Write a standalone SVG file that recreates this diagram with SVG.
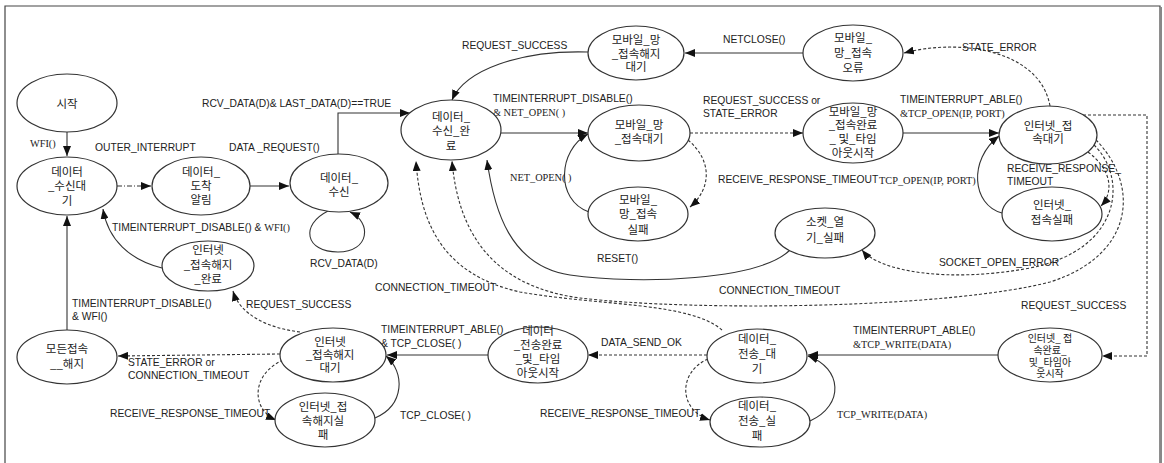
<svg xmlns="http://www.w3.org/2000/svg" width="1164" height="463" viewBox="0 0 1164 463">
<style>
.n ellipse{fill:#fff;stroke:#333;stroke-width:1.2}
.n text{font-family:"Noto Sans CJK KR","Liberation Sans",sans-serif;font-size:11.5px;fill:#222;text-anchor:middle}
.n text.s{font-size:10px}
.c path{fill:none;stroke:#333;stroke-width:1.1}
.c path.d{stroke-dasharray:3,2}
.c path.dd{stroke-dasharray:5,2,1,2}
.l text{font-family:"Liberation Sans",Arial,sans-serif;font-size:10.3px;fill:#222}
.l text.m{font-family:"Liberation Serif","Times New Roman",serif;font-size:10.3px}
</style>
<defs>
<marker id="a" markerUnits="userSpaceOnUse" markerWidth="10" markerHeight="8" refX="10" refY="4" orient="auto"><path d="M0,0 L10,4 L0,8 z" fill="#111"/></marker>
</defs>
<rect x="0" y="0" width="1164" height="463" fill="#fff"/>
<path d="M5,463 L5,6 L1160,6 L1160,463" fill="none" stroke="#444" stroke-width="1.2"/>
<path d="M1161,7 L1161,463" fill="none" stroke="#888" stroke-width="2"/>

<g class="c">
<path d="M67,132 L67,156" marker-end="url(#a)"/>
<path class="dd" d="M117,186 L151,186" marker-end="url(#a)"/>
<path d="M250,186 L289,186" marker-end="url(#a)"/>
<path d="M338,154 L338,113 L410,113" marker-end="url(#a)"/>
<path d="M328,211 C300,225 305,252 338,252 C370,252 372,222 350,212" marker-end="url(#a)"/>
<path d="M501,133 L588,133" marker-end="url(#a)"/>
<path d="M588,52 C520,50 465,70 452,100" marker-end="url(#a)"/>
<path d="M803,53 L685,53" marker-end="url(#a)"/>
<path class="d" d="M1050,106 C1040,50 960,38 904,53" marker-end="url(#a)"/>
<path class="d" d="M690,133 L803,133" marker-end="url(#a)"/>
<path class="d" d="M688,140 C712,160 712,188 690,207" marker-end="url(#a)"/>
<path d="M589,212 C555,200 558,150 588,134" marker-end="url(#a)"/>
<path d="M903,133 L999,133" marker-end="url(#a)"/>
<path d="M1002,213 C972,205 968,160 999,136" marker-end="url(#a)"/>
<path class="d" d="M1088,152 C1112,170 1114,192 1101,206" marker-end="url(#a)"/>
<path class="d" d="M1094,145 C1128,178 1122,250 1030,268 C950,283 880,272 862,250" marker-end="url(#a)"/>
<path class="d" d="M1096,140 C1140,185 1135,255 1050,282 C950,308 700,312 580,298 C490,286 458,230 452,161" marker-end="url(#a)"/>
<path d="M790,250 C760,280 640,285 570,275 C510,266 494,210 487,160" marker-end="url(#a)"/>
<path class="d" d="M722,330 C690,302 600,306 520,292 C440,274 420,220 416,161" marker-end="url(#a)"/>
<path class="d" d="M1083,115 L1147,115 L1147,356 L1102,356" marker-end="url(#a)"/>
<path d="M998,355 L808,355" marker-end="url(#a)"/>
<path class="d" d="M707,355 L588,355" marker-end="url(#a)"/>
<path class="d" d="M708,359 C678,372 678,410 710,420" marker-end="url(#a)"/>
<path d="M810,421 C845,405 842,368 808,356" marker-end="url(#a)"/>
<path d="M488,355 L387,355" marker-end="url(#a)"/>
<path d="M375,418 C405,405 405,372 386,356" marker-end="url(#a)"/>
<path class="d" d="M283,360 C250,375 252,410 276,420" marker-end="url(#a)"/>
<path class="d" d="M280,354 L118,356" marker-end="url(#a)"/>
<path class="d" d="M300,332 C268,328 240,315 233,291" marker-end="url(#a)"/>
<path d="M162,268 C130,260 108,240 103,209" marker-end="url(#a)"/>
<path d="M67,330 L67,216" marker-end="url(#a)"/>
</g>

<g class="l">
<text class="m" x="30" y="147">WFI()</text>
<text x="95" y="151">OUTER_INTERRUPT</text>
<text x="229" y="151">DATA _REQUEST()</text>
<text x="202" y="107">RCV_DATA(D)&amp; LAST_DATA(D)==TRUE</text>
<text x="310" y="267">RCV_DATA(D)</text>
<text x="493" y="102">TIMEINTERRUPT_DISABLE()</text>
<text class="m" x="493" y="116">&amp; NET_OPEN( )</text>
<text x="462" y="49">REQUEST_SUCCESS</text>
<text x="723" y="43">NETCLOSE()</text>
<text x="962" y="51">STATE_ERROR</text>
<text x="703" y="104">REQUEST_SUCCESS or</text>
<text x="703" y="117">STATE_ERROR</text>
<text x="718" y="183">RECEIVE_RESPONSE_TIMEOUT</text>
<text class="m" x="510" y="181">NET_OPEN( )</text>
<text x="900" y="103">TIMEINTERRUPT_ABLE()</text>
<text class="m" x="900" y="117">&amp;TCP_OPEN(IP, PORT)</text>
<text class="m" x="879" y="184">TCP_OPEN(IP, PORT)</text>
<text x="1007" y="172">RECEIVE_RESPONSE_</text>
<text x="1007" y="185">TIMEOUT</text>
<text x="939" y="266">SOCKET_OPEN_ERROR</text>
<text x="719" y="294">CONNECTION_TIMEOUT</text>
<text x="597" y="262">RESET()</text>
<text x="375" y="291">CONNECTION_TIMEOUT</text>
<text x="1021" y="309">REQUEST_SUCCESS</text>
<text x="853" y="334">TIMEINTERRUPT_ABLE()</text>
<text class="m" x="853" y="348">&amp;TCP_WRITE(DATA)</text>
<text x="601" y="346">DATA_SEND_OK</text>
<text x="540" y="417">RECEIVE_RESPONSE_TIMEOUT</text>
<text class="m" x="837" y="418">TCP_WRITE(DATA)</text>
<text x="381" y="333">TIMEINTERRUPT_ABLE()</text>
<text x="381" y="347">&amp; TCP_CLOSE( )</text>
<text x="400" y="419">TCP_CLOSE( )</text>
<text x="110" y="417">RECEIVE_RESPONSE_TIMEOUT</text>
<text x="128" y="366">STATE_ERROR or</text>
<text x="128" y="379">CONNECTION_TIMEOUT</text>
<text x="246" y="308">REQUEST_SUCCESS</text>
<text x="112" y="231">TIMEINTERRUPT_DISABLE() &amp; <tspan font-family="Liberation Serif, serif">WFI()</tspan></text>
<text x="72" y="307">TIMEINTERRUPT_DISABLE()</text>
<text x="72" y="320">&amp; WFI()</text>
</g>

<g class="n" id="n-start"><ellipse cx="67" cy="103" rx="50" ry="29"/><text x="67" y="108">시작</text></g>
<g class="n" id="n-rx-wait"><ellipse cx="67" cy="186" rx="50" ry="29"/><text x="67" y="176">데이터</text><text x="67" y="190">_수신대</text><text x="67" y="205">기</text></g>
<g class="n" id="n-arrive"><ellipse cx="201" cy="186" rx="49" ry="29"/><text x="201" y="176">데이터_</text><text x="201" y="190">도착</text><text x="201" y="204">알림</text></g>
<g class="n" id="n-rx"><ellipse cx="339" cy="183" rx="49" ry="29"/><text x="339" y="182">데이터_</text><text x="339" y="196">수신</text></g>
<g class="n" id="n-rx-done"><ellipse cx="451" cy="130" rx="50" ry="30"/><text x="451" y="121">데이터_</text><text x="451" y="135">수신_완</text><text x="451" y="150">료</text></g>
<g class="n" id="n-mob-close-wait"><ellipse cx="636" cy="53" rx="48" ry="27"/><text x="636" y="44">모바일_망</text><text x="636" y="58">_접속해지</text><text x="636" y="71">대기</text></g>
<g class="n" id="n-mob-err"><ellipse cx="853" cy="53" rx="50" ry="28"/><text x="853" y="42">모바일_</text><text x="853" y="57">망_접속</text><text x="853" y="72">오류</text></g>
<g class="n" id="n-mob-wait"><ellipse cx="639" cy="133" rx="51" ry="28"/><text x="639" y="129">모바일_망</text><text x="639" y="143">_접속대기</text></g>
<g class="n" id="n-mob-done"><ellipse cx="853" cy="133" rx="50" ry="30"/><text x="853" y="116">모바일_망</text><text x="853" y="129">_접속완료</text><text x="853" y="143">_ 및_타임</text><text x="853" y="157">아웃시작</text></g>
<g class="n" id="n-inet-wait"><ellipse cx="1048" cy="135" rx="49" ry="29"/><text x="1048" y="130">인터넷_접</text><text x="1048" y="143">속대기</text></g>
<g class="n" id="n-inet-fail"><ellipse cx="1052" cy="214" rx="50" ry="27"/><text x="1052" y="209">인터넷_</text><text x="1052" y="224">접속실패</text></g>
<g class="n" id="n-mob-fail"><ellipse cx="638" cy="214" rx="50" ry="27"/><text x="638" y="204">모바일_</text><text x="638" y="218">망_접속</text><text x="638" y="234">실패</text></g>
<g class="n" id="n-sock-fail"><ellipse cx="825" cy="233" rx="50" ry="25"/><text x="825" y="226">소켓_열</text><text x="825" y="242">기_실패</text></g>
<g class="n" id="n-inet-close-done"><ellipse cx="208" cy="266" rx="46" ry="25"/><text x="208" y="254">인터넷</text><text x="208" y="269">_접속해지</text><text x="208" y="283">_완료</text></g>
<g class="n" id="n-all-close"><ellipse cx="67" cy="357" rx="50" ry="27"/><text x="67" y="353">모든접속</text><text x="67" y="368">__해지</text></g>
<g class="n" id="n-inet-close-wait"><ellipse cx="333" cy="355" rx="53" ry="27"/><text x="330" y="346">인터넷</text><text x="330" y="359">_접속해지</text><text x="330" y="372">대기</text></g>
<g class="n" id="n-inet-close-fail"><ellipse cx="325" cy="420" rx="50" ry="27"/><text x="323" y="411">인터넷_접</text><text x="323" y="425">속해지실</text><text x="323" y="439">패</text></g>
<g class="n" id="n-tx-done"><ellipse cx="538" cy="355" rx="50" ry="28"/><text x="538" y="335">데이터</text><text x="538" y="349">_전송완료</text><text x="538" y="363">_및_타임</text><text x="538" y="377">아웃시작</text></g>
<g class="n" id="n-tx-wait"><ellipse cx="757" cy="356" rx="50" ry="27"/><text x="757" y="343">데이터_</text><text x="757" y="358">전송_대</text><text x="757" y="373">기</text></g>
<g class="n" id="n-tx-fail"><ellipse cx="760" cy="422" rx="50" ry="25"/><text x="757" y="410">데이터_</text><text x="757" y="425">전송_실</text><text x="757" y="440">패</text></g>
<g class="n" id="n-inet-done"><ellipse cx="1050" cy="355" rx="52" ry="27"/><text class="s" x="1050" y="342">인터넷_ 접</text><text class="s" x="1050" y="354">속완료_</text><text class="s" x="1050" y="366">및_타임아</text><text class="s" x="1050" y="377">웃시작</text></g>
</svg>
